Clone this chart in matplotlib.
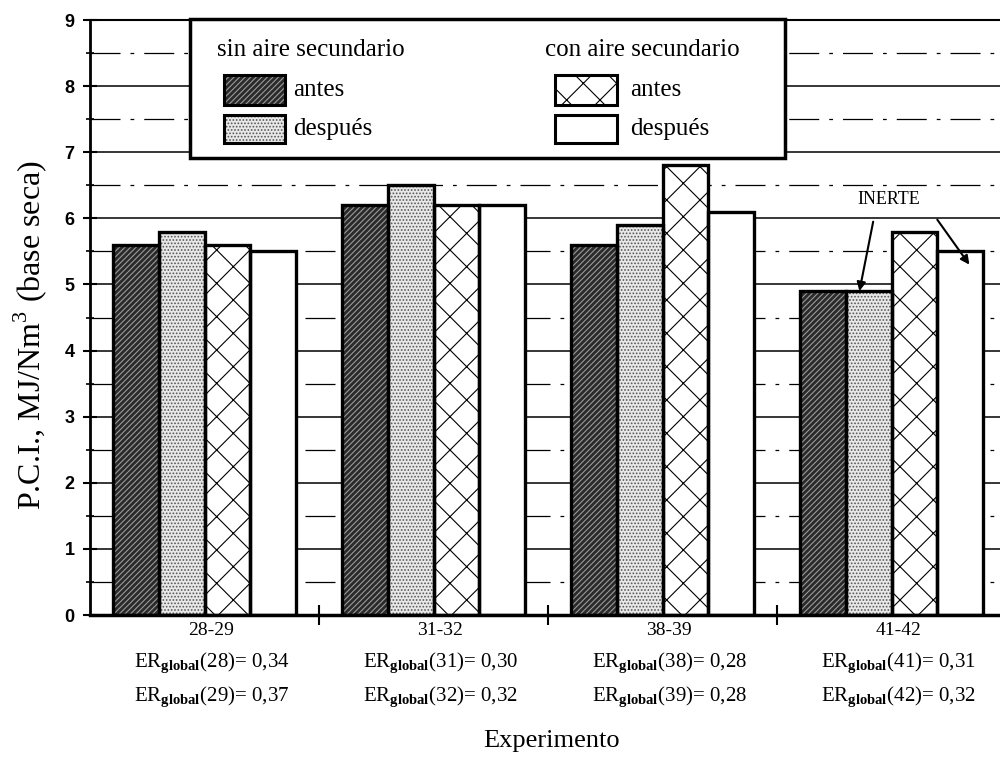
import matplotlib.pyplot as plt
import matplotlib.patches as mpatches
from matplotlib.transforms import blended_transform_factory
import numpy as np

plt.rcParams['font.family'] = 'Liberation Serif'
plt.rcParams['mathtext.fontset'] = 'custom'
plt.rcParams['mathtext.rm'] = 'Liberation Serif'
plt.rcParams['mathtext.bf'] = 'Liberation Serif:bold'
plt.rcParams['hatch.linewidth'] = 0.8

# DATOS
experimentos = ['28-29', '31-32', '38-39', '41-42']
sin_antes = [5.6, 6.2, 5.6, 4.9]
sin_despues = [5.8, 6.5, 5.9, 4.9]
con_antes = [5.6, 6.2, 6.8, 5.8]
con_despues = [5.5, 6.2, 6.1, 5.5]

er_exp_1 = ['28', '31', '38', '41']
er_val_1 = ['0,34', '0,30', '0,28', '0,31']
er_exp_2 = ['29', '32', '39', '42']
er_val_2 = ['0,37', '0,32', '0,28', '0,32']

# estilos: (relleno, trama, color de trama)
estilos = [
    ('#2a2a2a', '//////', '#9a9a9a'),
    ('#e8e8e8', '.....', '#555555'),
    ('white', 'x', 'black'),
    ('white', None, 'black'),
]
series = [sin_antes, sin_despues, con_antes, con_despues]

WIDTH = 0.2
x = np.arange(len(experimentos)) + 0.5

fig = plt.figure(figsize=(10, 7.62), dpi=100)
ax = fig.add_axes([0.09, 0.1929, 0.91, 0.7808])

for i, (vals, (fc, hatch, hc)) in enumerate(zip(series, estilos)):
    pos = x + (i - 1.5) * WIDTH
    ax.bar(pos, vals, WIDTH, color=fc, hatch=hatch, edgecolor=hc,
           linewidth=0, zorder=2)
    ax.bar(pos, vals, WIDTH, fill=False, edgecolor='black',
           linewidth=2.4, zorder=3)

ax.set_xlim(0, 910 / 229)
ax.set_ylim(0, 9)

# rejilla horizontal
ax.set_yticks(np.arange(0, 10, 1))
ax.set_yticks(np.arange(0.5, 9, 1), minor=True)
ax.yaxis.grid(True, which='major', color='black', linewidth=1.1)
ax.yaxis.grid(True, which='minor', color='black', linewidth=0.9,
              linestyle=(0, (24, 8, 3, 8)))
ax.set_axisbelow(True)

ax.tick_params(axis='y', which='major', direction='inout', length=10,
               width=1.5, labelsize=13, pad=6)
ax.tick_params(axis='y', which='minor', direction='inout', length=6,
               width=1.2)
for lbl in ax.get_yticklabels():
    lbl.set_fontfamily('Liberation Sans')
    lbl.set_fontweight('bold')

ax.set_xticks([1, 2, 3])
ax.set_xticklabels([])
ax.tick_params(axis='x', direction='inout', length=14, width=1.5)

ax.spines['left'].set_linewidth(2)
ax.spines['bottom'].set_linewidth(2.5)
ax.spines['top'].set_linewidth(1.5)
ax.spines['right'].set_visible(False)

# etiquetas bajo cada grupo
trans = blended_transform_factory(ax.transData, ax.transAxes)
for xi, nombre, e1, v1, e2, v2 in zip(x, experimentos, er_exp_1, er_val_1,
                                      er_exp_2, er_val_2):
    ax.text(xi + 0.03, -0.026, nombre, transform=trans, ha='center',
            va='center', fontsize=14)
    ax.text(xi + 0.03, -0.082, r'ER$_{\mathbf{global}}$(%s)= %s' % (e1, v1),
            transform=trans, ha='center', va='center', fontsize=15)
    ax.text(xi + 0.03, -0.139, r'ER$_{\mathbf{global}}$(%s)= %s' % (e2, v2),
            transform=trans, ha='center', va='center', fontsize=15)

fig.text(0.552, 1 - 741 / 762, 'Experimento', ha='center', va='center',
         fontsize=19)
fig.text(0.030, 1 - 335 / 762, r'P.C.I., MJ/Nm$^3$ (base seca)',
         rotation=90, ha='center', va='center', fontsize=23)

# INERTE
ax.text(3.49, 6.28, 'INERTE', ha='center', va='center', fontsize=13)
flecha = dict(arrowstyle='-|>', color='black', lw=1.5, mutation_scale=13,
              shrinkA=0, shrinkB=0)
ax.annotate('', xy=(x[3] - 0.14, sin_despues[3]), xytext=(x[3] - 0.08, 5.95),
            arrowprops=flecha)
ax.annotate('', xy=(x[3] + 0.34, con_despues[3] - 0.2),
            xytext=(x[3] + 0.2, 5.98), arrowprops=flecha)


# leyenda dibujada a mano (coordenadas en pixeles de la figura)
def px(xp, yp):
    return xp / 1000, 1 - yp / 762


def caja(x0, y0, x1, y1, **kw):
    (fx0, fy1), (fx1, fy0) = px(x0, y0), px(x1, y1)
    r = mpatches.Rectangle((fx0, fy0), fx1 - fx0, fy1 - fy0,
                           transform=fig.transFigure, **kw)
    fig.add_artist(r)


caja(190, 19, 785, 158, facecolor='white', edgecolor='black', lw=2.5,
     zorder=5)
fig.text(*px(217, 50), 'sin aire secundario', ha='left', va='center',
         fontsize=18, zorder=6)
fig.text(*px(545, 50), 'con aire secundario', ha='left', va='center',
         fontsize=18, zorder=6)

filas = [(75, 105, 90), (115, 143, 129)]
columnas = [(224, 285, 293, estilos[:2]), (555, 617, 630, estilos[2:])]
nombres = ['antes', 'después']
for (cx0, cx1, tx, est) in columnas:
    for (ry0, ry1, ty), (fc, hatch, hc), nom in zip(filas, est, nombres):
        caja(cx0, ry0, cx1, ry1, facecolor=fc, hatch=hatch, edgecolor=hc,
             lw=0, zorder=6)
        caja(cx0, ry0, cx1, ry1, fill=False, edgecolor='black', lw=2.2,
             zorder=7)
        fig.text(*px(tx, ty), nom, ha='left', va='center', fontsize=18,
                 zorder=7)

fig.savefig('out.png', dpi=100)
